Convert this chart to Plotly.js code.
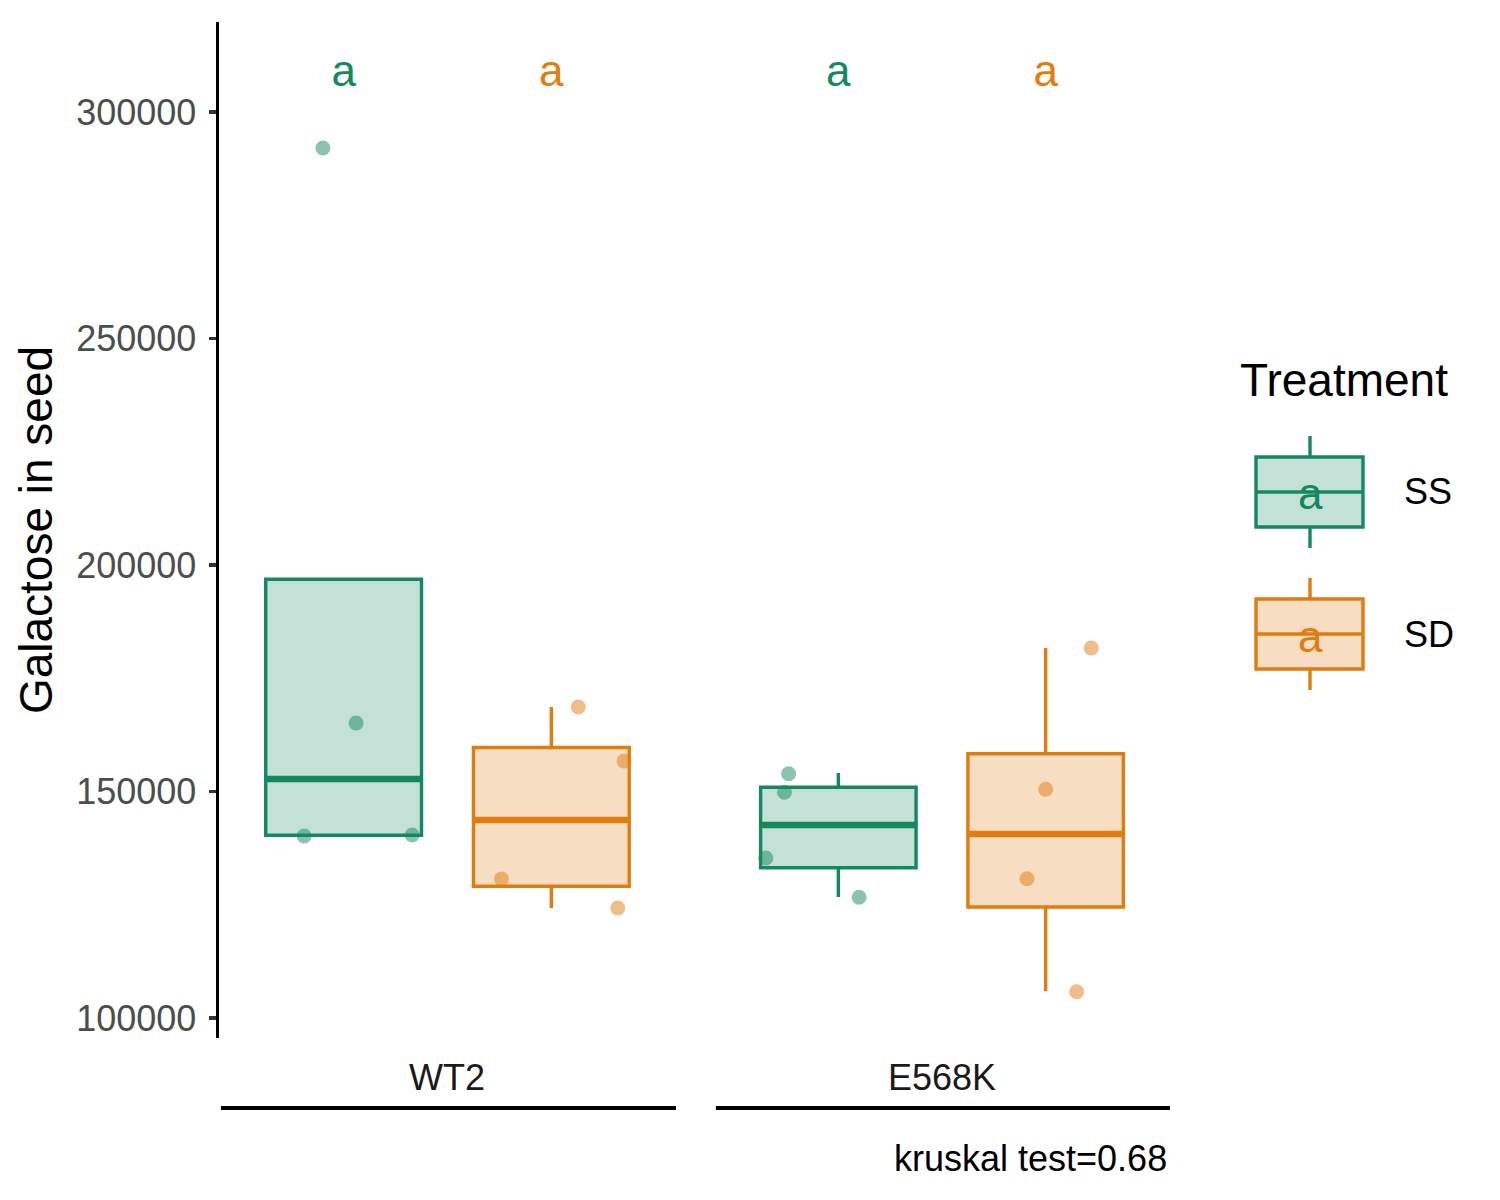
<!DOCTYPE html>
<html>
<head>
<meta charset="utf-8">
<script src="https://cdn.plot.ly/plotly-3.0.1.min.js"></script>
<style>
  body { margin: 0; background: #fff; }
  #chart { width: 1500px; height: 1200px; }
</style>
</head>
<body>
<div id="chart"></div>
<script>
// data
const genotypes = ["WT2", "E568K"];
const treatments = ["SS", "SD"];

// groups in order: WT2-SS, WT2-SD, E568K-SS, E568K-SD
const groupGenotype = ["WT2", "WT2", "E568K", "E568K"];
const groupTreatment = ["SS", "SD", "SS", "SD"];

const lowerWhisker = [140180, 124280, 126710, 105960];
const q1 = [140340, 129090, 133170, 124500];
const median = [152760, 143710, 142600, 140620];
const q3 = [196860, 159710, 150940, 158330];
const upperWhisker = [196860, 168650, 154080, 181680];

const letters = ["a", "a", "a", "a"];

// jittered points
const wt2SS = [292050, 165120, 140180, 140400];
const wt2SSJitter = [-0.10, 0.06, -0.19, 0.33];
const wt2SD = [168650, 156730, 130690, 124280];
const wt2SDJitter = [0.13, 0.35, -0.24, 0.32];
const e568kSS = [153930, 149820, 135320, 126640];
const e568kSSJitter = [-0.24, -0.26, -0.35, 0.10];
const e568kSD = [181680, 150490, 130750, 105810];
const e568kSDJitter = [0.22, 0.00, -0.09, 0.15];

const kruskalText = "kruskal test=0.68";

// styling
const colors = { SS: "#15895E", SD: "#E07C10" };
const fills = { SS: "rgba(21,137,94,0.25)", SD: "rgba(224,124,16,0.25)" };
const FONT = "Liberation Sans, Arial, sans-serif";
const boxWidth = 0.75;
const boxLine = 3.4;
const letterY = 308200;
const domains = [[0, 0.4805], [0.5205, 1]];

// plot area in pixels (for the hand-built legend)
const M = { l: 219, r: 330, t: 22, b: 162 };
const plotW = 1500 - M.l - M.r;
const plotH = 1200 - M.t - M.b;
const px = (x) => (x - M.l) / plotW;
const py = (y) => (1200 - M.b - y) / plotH;

const groupPoints = [wt2SS, wt2SD, e568kSS, e568kSD];
const groupJitter = [wt2SSJitter, wt2SDJitter, e568kSSJitter, e568kSDJitter];

const traces = [];
const axisFor = (g) => (genotypes.indexOf(g) === 0 ? "x" : "x2");

groupGenotype.forEach((g, i) => {
    const t = groupTreatment[i];
    const xpos = treatments.indexOf(t) + 1;
    const xa = axisFor(g);

    traces.push({
        type: "box",
        x: [xpos],
        q1: [q1[i]],
        median: [median[i]],
        q3: [q3[i]],
        lowerfence: [lowerWhisker[i]],
        upperfence: [upperWhisker[i]],
        width: boxWidth,
        whiskerwidth: 0,
        boxpoints: false,
        fillcolor: fills[t],
        line: { color: colors[t], width: boxLine },
        xaxis: xa, yaxis: "y",
        showlegend: false, hoverinfo: "skip"
    });

    // thicker median like ggplot's fatten
    traces.push({
        type: "scatter", mode: "lines",
        x: [xpos - boxWidth / 2, xpos + boxWidth / 2],
        y: [median[i], median[i]],
        line: { color: colors[t], width: 6.5 },
        xaxis: xa, yaxis: "y",
        showlegend: false, hoverinfo: "skip"
    });

    traces.push({
        type: "scatter", mode: "markers",
        x: groupJitter[i].map(j => xpos + j),
        y: groupPoints[i],
        marker: { color: colors[t], size: 15, opacity: 0.5, line: { width: 0 } },
        xaxis: xa, yaxis: "y",
        showlegend: false, hoverinfo: "skip"
    });

    traces.push({
        type: "scatter", mode: "text",
        x: [xpos], y: [letterY],
        text: [letters[i]],
        textposition: "middle center",
        textfont: { family: FONT, size: 44, color: colors[t] },
        xaxis: xa, yaxis: "y",
        showlegend: false, hoverinfo: "skip"
    });
});

const shapes = [];
const annotations = [];

// facet strips at the bottom
genotypes.forEach((g, k) => {
    const d = domains[k];
    annotations.push({
        xref: "paper", yref: "paper",
        x: (d[0] + d[1]) / 2, y: py(1077),
        text: g, showarrow: false,
        xanchor: "center", yanchor: "middle",
        font: { family: FONT, size: 36, color: "#1A1A1A" }
    });
    shapes.push({
        type: "line", xref: "paper", yref: "paper",
        x0: d[0] + 0.002, x1: d[1], y0: py(1108), y1: py(1108),
        line: { color: "#000", width: 4 }
    });
});

annotations.push({
    xref: "paper", yref: "paper",
    x: px(1169), y: py(1158),
    text: kruskalText, showarrow: false,
    xanchor: "right", yanchor: "middle",
    font: { family: FONT, size: 36, color: "#000" }
});

// legend, drawn by hand so the keys look like ggplot's
annotations.push({
    xref: "paper", yref: "paper",
    x: px(1238), y: py(380),
    text: "Treatment", showarrow: false,
    xanchor: "left", yanchor: "middle",
    font: { family: FONT, size: 46, color: "#000" }
});

treatments.forEach((t, k) => {
    const cy = 492 + k * 142;
    const cx = 1310;
    shapes.push({
        type: "rect", xref: "paper", yref: "paper",
        x0: px(1256), x1: px(1363), y0: py(cy - 35), y1: py(cy + 35),
        fillcolor: fills[t], line: { color: colors[t], width: boxLine }
    });
    shapes.push({
        type: "line", xref: "paper", yref: "paper",
        x0: px(1256), x1: px(1363), y0: py(cy), y1: py(cy),
        line: { color: colors[t], width: boxLine }
    });
    shapes.push({
        type: "line", xref: "paper", yref: "paper",
        x0: px(cx), x1: px(cx), y0: py(cy - 56), y1: py(cy - 35),
        line: { color: colors[t], width: boxLine }
    });
    shapes.push({
        type: "line", xref: "paper", yref: "paper",
        x0: px(cx), x1: px(cx), y0: py(cy + 35), y1: py(cy + 56),
        line: { color: colors[t], width: boxLine }
    });
    annotations.push({
        xref: "paper", yref: "paper",
        x: px(cx), y: py(cy + 2),
        text: letters[0], showarrow: false,
        xanchor: "center", yanchor: "middle",
        font: { family: FONT, size: 44, color: colors[t] }
    });
    annotations.push({
        xref: "paper", yref: "paper",
        x: px(1402), y: py(cy),
        text: t, showarrow: false,
        xanchor: "left", yanchor: "middle",
        font: { family: FONT, size: 36, color: "#000" }
    });
});

const hiddenX = (d) => ({
    domain: d, range: [0.4, 2.6], visible: false, fixedrange: true, anchor: "y"
});

const layout = {
    width: 1500, height: 1200,
    margin: M,
    paper_bgcolor: "#fff", plot_bgcolor: "rgba(0,0,0,0)",
    font: { family: FONT, color: "#000" },
    showlegend: false,
    boxmode: "overlay",
    xaxis: hiddenX(domains[0]),
    xaxis2: hiddenX(domains[1]),
    yaxis: {
        anchor: "x",
        range: [95585, 319868],
        tick0: 100000, dtick: 50000,
        tickformat: "d",
        showgrid: false, zeroline: false,
        showline: true, linecolor: "#000", linewidth: 3.5,
        ticks: "outside", ticklen: 7, tickwidth: 3.5, tickcolor: "#333",
        ticklabelstandoff: 5,
        tickfont: { family: FONT, size: 36, color: "#4D4D4D" },
        title: {
            text: "Galactose in seed",
            font: { family: FONT, size: 46, color: "#000" },
            standoff: 10
        },
        automargin: false
    },
    shapes: shapes,
    annotations: annotations
};

Plotly.newPlot("chart", traces, layout, { displayModeBar: false, staticPlot: true });
</script>
</body>
</html>
